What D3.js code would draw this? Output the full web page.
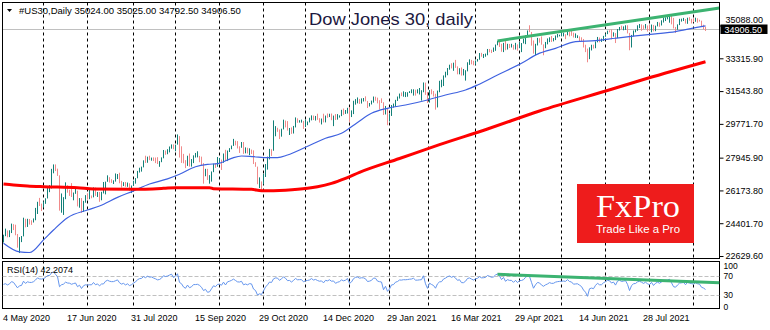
<!DOCTYPE html>
<html><head><meta charset="utf-8">
<script src="https://cdn.jsdelivr.net/npm/d3@7"></script>
<style>body{margin:0;background:#fff}svg{display:block}text{font-family:"Liberation Sans",Arial,sans-serif}</style>
</head><body>
<svg id="c" width="770" height="330"></svg>
<script>
// ---------------- DATA ----------------
const symbol = "#US30,Daily";
const headerQuote = "35024.00 35025.00 34792.50 34906.50";
const chartTitle = "Dow Jones 30, daily";
const rsiLabel = "RSI(14) 42.2074";
const firstDay = "2020-05-04";
const closedDays = ["2020-12-25", "2021-01-01"];
const labelDates = ["2020-05-04","2020-06-17","2020-07-31","2020-09-15","2020-10-29","2020-12-14","2021-01-29","2021-03-16","2021-04-29","2021-06-14","2021-07-28"];
const priceTicks = [22629.60, 24401.70, 26173.80, 27945.90, 29771.70, 31543.80, 33315.90, 35088.00];
const rsiTicks = [0, 30, 70, 100];
const rsiLevels = [30, 70];
const lastPrice = 34906.50;

const opens = [
23600,23750,23880,23670,23880,24330,24220,23760,23250,23620,23690,24600,24210,24570,24470,24470,24620,25000,25550,25400,
25380,25480,25740,26270,26290,27110,27570,27270,26990,25130,25600,25760,26290,26120,26080,25870,26020,26150,25440,25740,25010,25590,
25810,25740,25830,25800,26280,25890,26060,25700,26080,26090,26640,26870,26730,26670,26680,26840,27000,26650,26470,26580,26380,26540,26310,
26430,26660,26830,27200,27390,27430,27790,27690,27980,27900,27930,27840,27780,27690,27740,27930,28310,28250,28330,28490,28650,
28430,28650,29100,28290,28130,27700,27500,27940,27540,27670,27990,27990,28030,27900,27650,27150,27290,26760,26820,27170,27580,27450,
27780,27810,27680,28150,27770,28300,28420,28590,28840,28680,28510,28490,28600,28190,28300,28210,28360,28330,27680,27460,26520,26650,
26500,26920,27480,27850,28390,28330,29160,29420,29400,29080,29480,29950,29780,29440,29480,29260,29590,30040,29870,29900,29910,
29640,29820,29880,29970,30210,30070,30170,30060,30000,30040,29860,30200,30150,30300,30180,30210,30010,30130,30200,30400,30330,30410,
30600,30220,30390,30830,31040,31090,31000,31060,31060,31000,30810,30850,30930,31190,31170,30990,30960,30930,30300,30600,
29980,30210,30690,30720,31060,31150,31380,31370,31430,31430,31460,31500,31520,31610,31490,31490,31520,31530,31960,31400,
30930,31530,31390,31270,30920,31500,31800,31830,32290,32480,32780,32950,32820,33010,32860,32630,32730,32420,32420,32620,33070,33170,33060,
32980,33150,33250,33520,33430,33440,33500,33800,33740,33670,33730,34030,34200,34070,33820,34130,33810,34040,33980,33980,33820,34060,
33870,34110,34130,34230,34550,34780,34740,34270,33590,34020,34380,34320,34060,33890,34080,34200,34390,34310,34320,34460,34530,
34560,34570,34600,34570,34750,34630,34600,34450,34470,34480,34390,34300,34030,33820,33290,33870,33940,33870,34190,34430,34280,34290,
34500,34630,34790,34760,34570,34680,34420,34870,34990,34880,34930,34980,34680,33960,34510,34790,34820,35060,35140,35050,34930,35080,
34930,34830,35110,34790,35060,35200,35100,35260,35480,35500,35510,35620,35340,34960,34890,35120,35330,35360,35400,35210,35450,35400,
35360,35310,35440,35370,35340,35100,35024];
const highs = [
23780,24110,24010,24020,24380,24350,24320,23820,23650,23710,24700,24640,24640,24630,24560,24660,25230,25560,25770,25460,
25580,25750,26310,26460,27340,27580,27580,27350,26990,26010,25810,26610,26450,26210,26570,26060,26320,26160,25760,25760,25610,25920,
26020,26210,25900,26340,26330,26090,26090,26100,26630,26650,26990,26890,26780,26720,27090,27060,27130,26690,26620,26630,26600,26560,26440,
26700,26840,27230,27400,27460,27800,28050,28000,28050,27950,27960,27950,27970,27760,27960,28360,28330,28400,28550,28660,28660,
28650,29200,29110,28560,28150,27810,28050,28170,27870,28070,28200,28290,28040,28000,27650,27340,27340,27000,27200,27620,27640,27980,
27930,27840,28170,28370,28330,28460,28600,28960,28860,28840,28560,28790,28790,28500,28480,28450,28380,28340,27700,27460,26880,26660,
27070,27600,28000,28420,28400,29960,29650,29560,29470,29510,30000,29950,29920,29550,29580,29660,30120,30070,29970,30000,29930,
30000,29900,30100,30230,30220,30200,30320,30080,30060,30320,30220,30330,30320,30330,30220,30300,30300,30230,30530,30600,30520,30640,
30670,30500,31020,31110,31200,31120,31150,31170,31260,31010,30900,31030,31250,31240,31190,31050,31150,30940,30740,30620,
30300,30790,30870,31070,31250,31410,31470,31530,31490,31480,31540,31640,31640,31620,31640,31710,31590,32010,32000,31490,
31600,31640,31550,31400,31570,32100,32160,32390,32590,32790,32970,33050,33080,33230,32880,32780,32820,32740,32670,33100,33260,33230,33180,
33200,33280,33600,33610,33550,33570,33820,33820,33780,33900,34060,34256,34220,34100,34150,34250,34100,34090,34100,34040,34150,34070,
34200,34140,34380,34560,34820,35100,34740,34280,34100,34420,34400,34500,34070,34200,34390,34450,34520,34410,34550,34630,34590,
34850,34700,34620,34800,34760,34800,34700,34660,34560,34500,34450,34360,34050,33840,33910,34050,34050,34230,34470,34440,34380,34530,
34650,34810,34830,34880,34720,34680,34900,35010,35080,35040,35100,35100,34690,34580,34820,34870,35100,35170,35150,35100,35170,35090,
35150,35140,35120,35080,35280,35250,35370,35520,35530,35560,35631,35620,35500,35010,35150,35450,35460,35500,35440,35510,35540,35450,
35480,35510,35480,35400,35350,35130,35025];
const lows = [
23360,23700,23640,23650,23870,24030,23750,23080,22790,23380,23690,24180,24200,24330,24310,24440,24560,24900,25330,25060,
25250,25450,25740,26080,26280,27100,27220,26960,25080,24970,24850,25700,26050,25880,25820,25640,25990,25310,25240,24960,25010,25510,
25680,25700,25750,25800,25880,25820,25560,25640,26010,25960,26640,26600,26580,26520,26650,26790,26560,26330,26410,26370,26370,26160,26030,
26420,26540,26830,27140,27190,27420,27660,27670,27810,27780,27760,27650,27600,27450,27700,27910,28100,28130,28230,28430,28400,
28290,28650,27950,27660,27640,27380,27500,27460,27460,27650,27950,27960,27700,27540,26540,26940,26740,26540,26650,27160,27390,27450,
27650,27280,27670,27760,27760,28250,28400,28580,28610,28440,28200,28480,28150,28180,28170,28080,28140,27600,27450,26510,26300,26150,
26500,26900,27300,27850,28040,28320,29100,29340,28950,29080,29470,29580,29410,29170,29230,29250,29580,29830,29840,29840,29500,
29600,29700,29850,29960,29980,29950,29990,29840,29740,29850,29850,30100,30140,29970,29650,29980,30000,30110,30190,30260,30310,30330,
29880,30140,30300,30810,30880,30850,30870,30980,30990,30630,30710,30820,30920,31020,30880,30550,30900,30250,30280,29700,
29900,30200,30650,30700,31010,31140,31270,31240,31220,31240,31440,31430,31300,31300,31420,31360,31030,31480,31340,30900,
30920,31370,31250,30540,30660,31480,31750,31820,32280,32400,32700,32770,32640,32800,32450,32450,32380,32390,32110,32610,32960,32990,32940,
32970,33140,33240,33400,33330,33400,33480,33640,33600,33660,33720,34020,33930,33670,33650,33750,33790,33870,33900,33780,33790,33730,
33860,33650,34120,34080,34540,34730,34000,33570,33480,34010,34160,34050,33480,33860,34070,34190,34200,34230,34300,34440,34500,
34500,34500,34350,34560,34500,34530,34440,34420,34410,34220,34230,33900,33650,33100,33270,33740,33840,33860,34180,34180,34200,34250,
34480,34620,34720,34340,34490,34140,34410,34820,34880,34830,34850,34660,33750,33900,34500,34720,34800,34950,34800,34880,34920,34760,
34800,34720,34770,34780,35040,35020,35090,35250,35330,35420,35240,35150,34930,34690,34860,35110,35300,35330,35190,35180,35350,35200,
35270,35290,35240,35300,35050,34880,34792.5];
const closes = [
23749,23883,23664,23875,24331,24221,23765,23248,23625,23685,24597,24206,24576,24474,24465,24620,24995,25548,25401,25383,
25475,25742,26270,26282,27111,27572,27272,26990,25128,25606,25763,26290,26120,26080,25871,26025,26156,25445,25746,25016,25596,25813,
25735,25827,25800,26287,25890,26067,25706,26075,26086,26643,26870,26735,26672,26680,26840,27005,26652,26470,26585,26380,26540,26314,26428,
26664,26828,27201,27387,27433,27791,27687,27976,27896,27931,27844,27778,27692,27739,27930,28308,28249,28332,28492,28654,28430,
28646,29100,28292,28133,27700,27500,27940,27535,27666,27993,27995,28032,27902,27657,27148,27288,26763,26815,27174,27584,27452,27782,
27817,27683,28149,27773,28303,28426,28587,28838,28680,28515,28494,28606,28195,28309,28211,28364,28336,27685,27463,26520,26659,26502,
26925,27481,27847,28390,28323,29158,29421,29398,29080,29480,29950,29784,29438,29483,29263,29591,30046,29872,29900,29910,29639,
29824,29884,29970,30218,30070,30174,30068,29999,30046,29862,30200,30155,30304,30180,30216,30016,30129,30200,30404,30336,30410,30606,
30224,30392,30829,31041,31098,31009,31068,31061,31000,30814,30850,30930,31188,31176,30997,30960,30937,30303,30603,29983,
30212,30688,30724,31056,31148,31386,31375,31438,31431,31458,31500,31523,31613,31494,31494,31522,31537,31962,31402,30932,
31535,31391,31270,30924,31496,31802,31833,32297,32485,32779,32953,32826,33015,32862,32628,32731,32423,32420,32619,33072,33171,33067,32982,
33153,33250,33527,33430,33446,33503,33800,33746,33677,33730,34036,34200,34078,33821,34137,33815,34043,33982,33984,33820,34060,33875,
34113,34133,34230,34548,34778,34743,34270,33587,34021,34382,34327,34061,33896,34084,34208,34394,34312,34323,34465,34529,34560,
34575,34600,34577,34756,34630,34600,34447,34467,34480,34394,34299,34033,33823,33290,33877,33945,33874,34196,34433,34283,34292,34503,
34633,34786,34760,34577,34681,34422,34870,34996,34889,34933,34987,34688,33962,34512,34798,34823,35062,35144,35059,34930,35085,34935,
34838,35117,34793,35065,35209,35102,35265,35485,35500,35516,35626,35343,34961,34895,35120,35336,35367,35406,35214,35456,35400,35361,
35313,35444,35369,35340,35100,35031,34906.5];

// 50-day MA at sample dates
const ma50Dates = ["2020-05-04","2020-05-14","2020-05-21","2020-06-01","2020-06-08","2020-06-17","2020-07-01","2020-07-09","2020-07-22","2020-08-03","2020-08-13","2020-08-26","2020-09-03","2020-09-15","2020-09-23","2020-09-30","2020-10-09","2020-10-16","2020-10-26","2020-11-04","2020-11-11","2020-11-18","2020-12-01","2020-12-15","2020-12-28","2021-01-08","2021-01-19","2021-01-29","2021-02-11","2021-02-26","2021-03-11","2021-03-25","2021-04-02","2021-04-16","2021-05-04","2021-05-14","2021-05-27","2021-06-10","2021-06-24","2021-07-08","2021-07-22","2021-08-05","2021-08-19","2021-09-02","2021-09-09"];
const ma50Values = [23316,22850,22820,23500,24035,24700,25116,25330,25800,26150,26521,26800,27050,27456,27586,27620,27910,28035,27997,27943,27950,28089,28505,28992,29262,29850,30343,30613,30792,31062,31332,31602,31873,32413,33046,33540,33856,34216,34270,34400,34524,34632,34756,34972,35064];
// 200-day MA at sample dates
const ma200Dates = ["2020-05-04","2020-05-11","2020-05-20","2020-06-01","2020-06-24","2020-07-06","2020-08-03","2020-08-24","2020-09-01","2020-09-24","2020-09-28","2020-10-23","2020-10-30","2020-11-17","2020-12-02","2020-12-09","2020-12-18","2020-12-30","2021-01-11","2021-02-08","2021-03-08","2021-04-09","2021-05-17","2021-07-06","2021-07-30","2021-09-09"];
const ma200Values = [26521,26467,26413,26376,26322,26252,26233,26287,26322,26322,26268,26233,26160,26190,26287,26376,26556,26826,27150,27900,28650,29494,30467,31640,32235,33133];
// trend lines (two anchor points, extended to the right edge)
const priceTrend = [{date:"2021-04-16", value:34256}, {date:"2021-08-16", value:35631}];
const rsiTrend = [{date:"2021-04-16", value:74.1}, {date:"2021-08-16", value:60.3}];
const rsiSeedGain = 180, rsiSeedLoss = 160;

// ---------------- CHART ----------------
const svg = d3.select("#c");
const parse = d3.utcParse("%Y-%m-%d"), key = d3.utcFormat("%Y-%m-%d");
const dates = [];
for (let d = parse(firstDay); dates.length < closes.length; d = d3.utcDay.offset(d, 1)) {
  const wd = d.getUTCDay();
  if (wd === 0 || wd === 6 || closedDays.includes(key(d))) continue;
  dates.push(d);
}
const idx = s => dates.findIndex(d => key(d) === s);
const n = closes.length;

const L = 2.5, R = 719.5, mainTop = 2.5, mainBot = 258.5, rsiTop = 261.5, rsiBot = 308.5;
const x = d3.scaleLinear().domain([0, n - 1]).range([3.5, 3.5 + 2 * (n - 1)]);
const y = d3.scaleLinear().domain([22629.6, 33315.9]).range([256, 58.3]);
const yr = d3.scaleLinear().domain([0, 100]).range([309.5, 262]);

const defs = svg.append("defs");
defs.append("clipPath").attr("id", "cm").append("rect").attr("x", L).attr("y", mainTop).attr("width", R - L).attr("height", mainBot - mainTop);
defs.append("clipPath").attr("id", "cr").append("rect").attr("x", L).attr("y", rsiTop).attr("width", R - L).attr("height", rsiBot - rsiTop);

svg.append("rect").attr("width", 770).attr("height", 330).attr("fill", "#fff");

// month separators
const seps = d3.range(1, n).filter(i => dates[i].getUTCMonth() !== dates[i - 1].getUTCMonth());
svg.append("g").selectAll("line").data(seps).join("line")
  .attr("x1", i => Math.round(x(i)) - 0.5).attr("x2", i => Math.round(x(i)) - 0.5)
  .attr("y1", mainTop).attr("y2", rsiBot)
  .attr("stroke", "#000").attr("stroke-dasharray", "3,3").attr("stroke-width", 1);

const main = svg.append("g").attr("clip-path", "url(#cm)");
// current price line
main.append("line").attr("x1", L).attr("x2", R).attr("y1", Math.round(y(lastPrice)) + 0.5).attr("y2", Math.round(y(lastPrice)) + 0.5)
  .attr("stroke", "#c0c0c0").attr("stroke-width", 1);

// title
svg.append("text").attr("x", 309).attr("y", 25).attr("font-size", 17).attr("fill", "#1c1840")
  .attr("textLength", 164).attr("lengthAdjust", "spacingAndGlyphs").text(chartTitle);

// OHLC bars
main.append("g").selectAll("line").data(d3.range(n)).join("line")
  .attr("x1", i => x(i)).attr("x2", i => x(i))
  .attr("y1", i => y(highs[i])).attr("y2", i => y(lows[i]))
  .attr("stroke", i => closes[i] >= opens[i] ? "#138078" : "#f08a8a").attr("stroke-width", 1);

// moving averages
const line = d3.line().x(d => x(d[0])).y(d => y(d[1])).curve(d3.curveMonotoneX);
main.append("path").datum(ma50Dates.map((s, k) => [idx(s), ma50Values[k]]))
  .attr("d", line).attr("fill", "none").attr("stroke", "#3f62e0").attr("stroke-width", 1.2);
main.append("path").datum(ma200Dates.map((s, k) => [idx(s), ma200Values[k]]))
  .attr("d", line).attr("fill", "none").attr("stroke", "#ff0000").attr("stroke-width", 3);

// price trend line
{
  const i1 = idx(priceTrend[0].date), i2 = idx(priceTrend[1].date);
  const slope = (priceTrend[1].value - priceTrend[0].value) / (i2 - i1);
  const iEnd = x.invert(R);
  main.append("line").attr("x1", x(i1)).attr("y1", y(priceTrend[0].value))
    .attr("x2", x(iEnd)).attr("y2", y(priceTrend[0].value + slope * (iEnd - i1)))
    .attr("stroke", "#3cb371").attr("stroke-width", 3);
}

// logo
const logo = svg.append("g");
logo.append("rect").attr("x", 577).attr("y", 184).attr("width", 117).attr("height", 59).attr("fill", "#ee1c1c");
logo.append("text").attr("x", 596).attr("y", 217).attr("font-size", 32)
  .attr("fill", "#fff").attr("textLength", 84).attr("lengthAdjust", "spacingAndGlyphs").style("font-family", "'Liberation Serif',serif").text("FxPro");
logo.append("text").attr("x", 596).attr("y", 232.5).attr("font-size", 11)
  .attr("fill", "#fff").attr("textLength", 84).attr("lengthAdjust", "spacingAndGlyphs").text("Trade Like a Pro");

// header
svg.append("path").attr("d", "M7,9 L12,9 L9.5,12 Z").attr("fill", "#000");
svg.append("text").attr("x", 19).attr("y", 13.5).attr("font-size", 9.5).attr("fill", "#000").text(symbol + "  " + headerQuote);

// frames
svg.append("rect").attr("x", L).attr("y", mainTop).attr("width", R - L).attr("height", mainBot - mainTop).attr("fill", "none").attr("stroke", "#000");
svg.append("rect").attr("x", L).attr("y", rsiTop).attr("width", R - L).attr("height", rsiBot - rsiTop).attr("fill", "none").attr("stroke", "#000");

// price axis
const ly = y(lastPrice);
const boxTop = Math.round(ly) - 4.5, boxH = 9.5;
const ya = svg.append("g").attr("transform", `translate(${R},0)`)
  .call(d3.axisRight(y).tickValues(priceTicks).tickFormat(d3.format(".2f")).tickSize(4).tickPadding(2));
ya.select(".domain").remove();
ya.selectAll("text").attr("font-size", 9).attr("font-family", "Liberation Sans").attr("fill", "#000");
// a label that would sit under the last-price box is lifted just above it
ya.selectAll(".tick").filter(d => Math.abs(y(d) - ly) < 9).select("text")
  .attr("dy", null).attr("y", null).attr("dominant-baseline", null)
  .attr("transform", d => `translate(0,${boxTop - 2.2 - y(d)})`).attr("dy", "0");

// last price box
svg.append("rect").attr("x", R + 1).attr("y", boxTop).attr("width", 47).attr("height", boxH).attr("fill", "#000");
svg.append("text").attr("x", R + 5).attr("y", boxTop + 8).attr("font-size", 9).attr("fill", "#fff").text(d3.format(".2f")(lastPrice));

// RSI panel
let ag = rsiSeedGain, al = rsiSeedLoss;
const rsi = closes.map((c, i) => {
  if (i > 0) { const ch = c - closes[i - 1]; ag = (ag * 13 + Math.max(ch, 0)) / 14; al = (al * 13 + Math.max(-ch, 0)) / 14; }
  return 100 - 100 / (1 + ag / al);
});
const rg = svg.append("g").attr("clip-path", "url(#cr)");
rg.selectAll("line").data(rsiLevels).join("line")
  .attr("x1", L).attr("x2", R).attr("y1", d => Math.round(yr(d)) + 0.5).attr("y2", d => Math.round(yr(d)) + 0.5)
  .attr("stroke", "#c0c0c0").attr("stroke-dasharray", "4,2");
rg.append("path").datum(rsi).attr("d", d3.line().x((d, i) => x(i)).y(d => yr(d)))
  .attr("fill", "none").attr("stroke", "#6495ed").attr("stroke-width", 1);
{
  const i1 = idx(rsiTrend[0].date), i2 = idx(rsiTrend[1].date);
  const slope = (rsiTrend[1].value - rsiTrend[0].value) / (i2 - i1);
  const iEnd = x.invert(R);
  rg.append("line").attr("x1", x(i1)).attr("y1", yr(rsiTrend[0].value))
    .attr("x2", x(iEnd)).attr("y2", yr(rsiTrend[0].value + slope * (iEnd - i1)))
    .attr("stroke", "#3cb371").attr("stroke-width", 3);
}
svg.append("text").attr("x", 7).attr("y", 272.5).attr("font-size", 9).attr("fill", "#000").text(rsiLabel);
const ra = svg.append("g").attr("transform", `translate(${R},0)`)
  .call(d3.axisRight(yr).tickValues(rsiTicks).tickFormat(d3.format("d")).tickSize(0).tickPadding(4));
ra.select(".domain").remove();
// edge labels are kept inside the panel (as the terminal does)
ra.selectAll("text").attr("font-size", 8.5).attr("font-family", "Liberation Sans").attr("fill", "#000")
  .attr("dy", d => d === 100 ? "0.78em" : d === 0 ? "-0.05em" : "0.32em");

// date axis
const xa = svg.append("g").attr("transform", `translate(0,${rsiBot})`)
  .call(d3.axisBottom(x).tickValues(labelDates.map(idx)).tickFormat(i => d3.utcFormat("%-d %b %Y")(dates[i])).tickSize(0).tickPadding(6));
xa.select(".domain").remove();
xa.selectAll("text").attr("font-size", 9).attr("font-family", "Liberation Sans").attr("fill", "#000").attr("text-anchor", "start").attr("dx", -1);
</script>
</body></html>
